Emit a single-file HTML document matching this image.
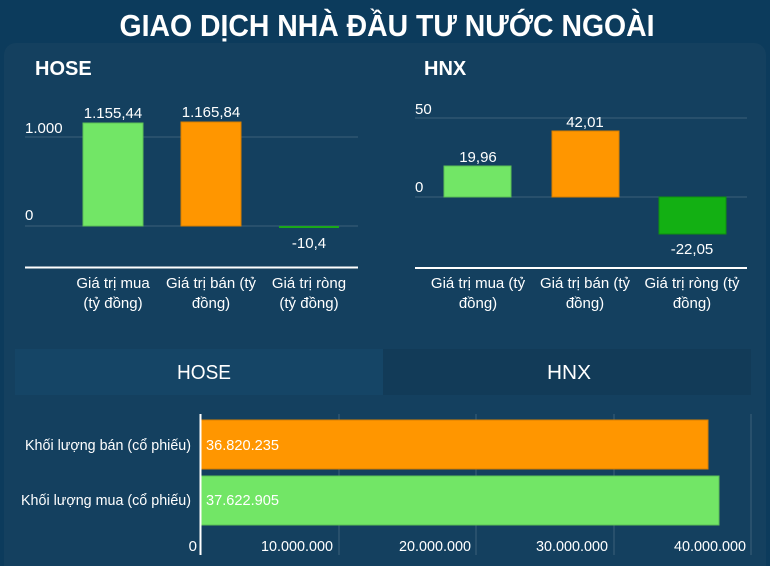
<!DOCTYPE html>
<html><head><meta charset="utf-8"><style>
html,body{margin:0;padding:0;background:#0c3b5c;}
svg{display:block;font-family:"Liberation Sans",sans-serif;}
</style></head><body>
<svg width="770" height="566" viewBox="0 0 770 566" xmlns="http://www.w3.org/2000/svg">
<rect x="0" y="0" width="770" height="566" fill="#0c3b5c"/>
<text x="387" y="36" fill="#fff" font-size="31" font-weight="bold" text-anchor="middle" textLength="535" lengthAdjust="spacingAndGlyphs">GIAO DỊCH NHÀ ĐẦU TƯ NƯỚC NGOÀI</text>
<rect x="4" y="43" width="762" height="540" rx="12" fill="#14405f"/>

<!-- HOSE -->
<text x="35" y="75" fill="#fff" font-size="20" font-weight="bold">HOSE</text>
<line x1="25" y1="137" x2="358" y2="137" stroke="#3c6079" stroke-width="1"/>
<line x1="25" y1="226" x2="358" y2="226" stroke="#3c6079" stroke-width="1"/>
<text x="25" y="133" fill="#fff" font-size="15">1.000</text>
<text x="25" y="220" fill="#fff" font-size="15">0</text>
<rect x="83" y="123" width="60" height="103" fill="#72e666" stroke="#5cc055" stroke-width="1"/>
<rect x="181" y="122" width="60" height="104" fill="#ff9600" stroke="#d97f00" stroke-width="1"/>
<rect x="279" y="226" width="60" height="2" fill="#1aa81a"/>
<text x="113" y="118" fill="#fff" font-size="15" text-anchor="middle">1.155,44</text>
<text x="211" y="117" fill="#fff" font-size="15" text-anchor="middle">1.165,84</text>
<text x="309" y="248" fill="#fff" font-size="15" text-anchor="middle">-10,4</text>
<line x1="25" y1="267.5" x2="358" y2="267.5" stroke="#fff" stroke-width="2"/>
<g fill="#fff" font-size="15" text-anchor="middle">
<text x="113" y="288">Giá trị mua</text><text x="113" y="308">(tỷ đồng)</text>
<text x="211" y="288">Giá trị bán (tỷ</text><text x="211" y="308">đồng)</text>
<text x="309" y="288">Giá trị ròng</text><text x="309" y="308">(tỷ đồng)</text>
</g>

<!-- HNX -->
<text x="424" y="75" fill="#fff" font-size="20" font-weight="bold">HNX</text>
<line x1="415" y1="118" x2="747" y2="118" stroke="#3c6079" stroke-width="1"/>
<line x1="415" y1="197" x2="747" y2="197" stroke="#3c6079" stroke-width="1"/>
<text x="415" y="114" fill="#fff" font-size="15">50</text>
<text x="415" y="192" fill="#fff" font-size="15">0</text>
<rect x="444" y="166" width="67" height="31" fill="#72e666" stroke="#5cc055" stroke-width="1"/>
<rect x="552" y="131" width="67" height="66" fill="#ff9600" stroke="#d97f00" stroke-width="1"/>
<rect x="659" y="197" width="67" height="37" fill="#13b013" stroke="#0f8f0f" stroke-width="1"/>
<text x="478" y="162" fill="#fff" font-size="15" text-anchor="middle">19,96</text>
<text x="585" y="127" fill="#fff" font-size="15" text-anchor="middle">42,01</text>
<text x="692" y="254" fill="#fff" font-size="15" text-anchor="middle">-22,05</text>
<line x1="415" y1="268" x2="747" y2="268" stroke="#fff" stroke-width="2"/>
<g fill="#fff" font-size="15" text-anchor="middle">
<text x="478" y="288">Giá trị mua (tỷ</text><text x="478" y="308">đồng)</text>
<text x="585" y="288">Giá trị bán (tỷ</text><text x="585" y="308">đồng)</text>
<text x="692" y="288">Giá trị ròng (tỷ</text><text x="692" y="308">đồng)</text>
</g>

<!-- Tabs -->
<rect x="15" y="349" width="368" height="46" fill="#154566"/>
<rect x="383" y="349" width="368" height="46" fill="#123b58"/>
<text x="204" y="379" fill="#fff" font-size="20" text-anchor="middle" textLength="54" lengthAdjust="spacingAndGlyphs">HOSE</text>
<text x="569" y="379" fill="#fff" font-size="20" text-anchor="middle" textLength="44" lengthAdjust="spacingAndGlyphs">HNX</text>

<!-- Horizontal bars -->
<g stroke="#3c6079" stroke-width="1">
<line x1="339" y1="414" x2="339" y2="555"/>
<line x1="476" y1="414" x2="476" y2="555"/>
<line x1="614" y1="414" x2="614" y2="555"/>
<line x1="751" y1="414" x2="751" y2="555"/>
</g>
<rect x="201" y="420" width="507" height="49" fill="#ff9600" stroke="#d97f00" stroke-width="1"/>
<rect x="201" y="476" width="518" height="49" fill="#72e666" stroke="#5cc055" stroke-width="1"/>
<line x1="200.5" y1="414" x2="200.5" y2="555" stroke="#fff" stroke-width="2"/>
<g fill="#fff" font-size="15">
<text x="206" y="450" textLength="73" lengthAdjust="spacingAndGlyphs">36.820.235</text>
<text x="206" y="505" textLength="73" lengthAdjust="spacingAndGlyphs">37.622.905</text>
</g>
<g fill="#fff" font-size="15" text-anchor="end">
<text x="191" y="450" textLength="166" lengthAdjust="spacingAndGlyphs">Khối lượng bán (cổ phiếu)</text>
<text x="191" y="505" textLength="170" lengthAdjust="spacingAndGlyphs">Khối lượng mua (cổ phiếu)</text>
<text x="197" y="551">0</text>
<text x="333" y="551" textLength="72" lengthAdjust="spacingAndGlyphs">10.000.000</text>
<text x="471" y="551" textLength="72" lengthAdjust="spacingAndGlyphs">20.000.000</text>
<text x="608" y="551" textLength="72" lengthAdjust="spacingAndGlyphs">30.000.000</text>
<text x="746" y="551" textLength="72" lengthAdjust="spacingAndGlyphs">40.000.000</text>
</g>
</svg>
</body></html>
